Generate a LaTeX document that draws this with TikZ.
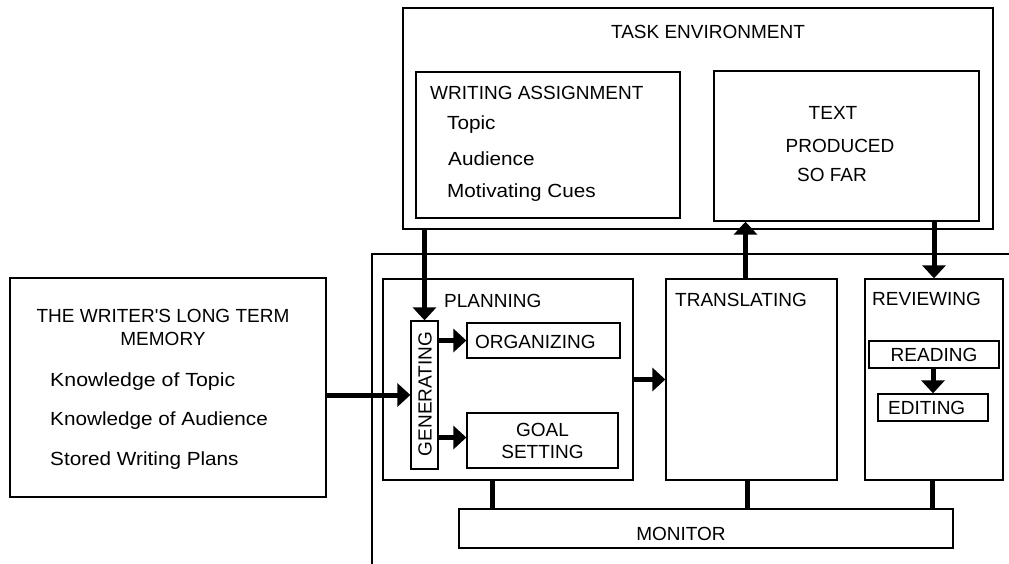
\documentclass[tikz,border=0pt]{standalone}
\usepackage{fontspec}
\setmainfont{Liberation Sans}[Ligatures=TeXOff]
\usetikzlibrary{arrows.meta,calc}
\tikzset{
  box/.style={draw, line width=1.3pt, rectangle, inner sep=0pt, anchor=center},
  lbl/.style={inner sep=0pt, font=\fontsize{19}{22}\selectfont},
  lower/.style={lbl, anchor=base west, xscale=1.09},
  arr/.style={line width=5pt, -{Triangle[length=13pt,width=23pt]}},
  link/.style={line width=5pt},
}
\begin{document}
\begin{tikzpicture}[x=1pt,y=-1pt]
\useasboundingbox (0,0) rectangle (1009,564);
% task environment
\node[box, minimum width=590, minimum height=221] (taskenv) at (698,118.5) {};
\node[lbl, anchor=base] (tetxt) at (708,39) {TASK ENVIRONMENT};
\node[box, minimum width=264, minimum height=146] (wa) at (548,145) {};
\node[lbl, anchor=base west] (watxt) at (430,100) {WRITING ASSIGNMENT};
\node[lower] (wa1) at (447,130) {Topic};
\node[lower] (wa2) at (448,166) {Audience};
\node[lower] (wa3) at (447,198) {Motivating Cues};
\node[box, minimum width=265, minimum height=150] (tp) at (846.5,146) {};
\node[lbl, anchor=base] (tp1) at (833,120) {TEXT};
\node[lbl, anchor=base] (tp2) at (840,153) {PRODUCED};
\node[lbl, anchor=base] (tp3) at (832,182) {SO FAR};
% long term memory
\node[box, minimum width=316, minimum height=219] (ltm) at (168,387.5) {};
\node[lbl, anchor=base] (ltm1) at (163,322) {THE WRITER'S LONG TERM};
\node[lbl, anchor=base] (ltm2) at (163,345) {MEMORY};
\node[lower, xscale=1.03] (ltm3) at (50,386) {Knowledge of Topic};
\node[lower] (ltm4) at (50,425) {Knowledge of Audience};
\node[lower] (ltm5) at (50,465) {Stored Writing Plans};
% process frame
\draw[line width=1.3pt] (1009,254) -- (372,254) -- (372,564);
% planning
\node[box, minimum width=250, minimum height=201] (plan) at (508,379.5) {};
\node[lbl, anchor=base west] (plantxt) at (444,307) {PLANNING};
\node[box, minimum width=27, minimum height=148] (gen) at (424.5,395) {};
\node[lbl, rotate=90] (gentxt) at (425,394) {GENERATING};
\node[box, minimum width=153, minimum height=35] (org) at (543.5,340.5) {};
\node[lbl, anchor=base west] (orgtxt) at (475,348) {ORGANIZING};
\node[box, minimum width=151, minimum height=55, lbl, align=center] (goal) at (542.5,440.5) {GOAL\\SETTING};
% translating
\node[box, minimum width=171, minimum height=201] (trans) at (751.5,379.5) {};
\node[lbl, anchor=base west] (transtxt) at (675,306) {TRANSLATING};
% reviewing
\node[box, minimum width=138, minimum height=201] (rev) at (934,379.5) {};
\node[lbl, anchor=base west] (revtxt) at (872,305) {REVIEWING};
\node[box, minimum width=130, minimum height=27, lbl] (read) at (934,354.5) {READING};
\node[box, minimum width=110, minimum height=27] (edit) at (933,407.5) {};
\node[lbl, anchor=base west] (edittxt) at (888,414) {EDITING};
% monitor
\node[box, minimum width=494, minimum height=39] (mon) at (706,528.5) {};
\node[lbl, anchor=base] (montxt) at (681,540) {MONITOR};
% arrows
\draw[arr] (gen.north |- taskenv.south) -- (gen.north);
\draw[arr] ([xshift=-6pt]trans.north) -- ([xshift=-6pt]trans.north |- tp.south);
\draw[arr] (rev.north |- tp.south) -- (rev.north);
\draw[arr] (ltm.east |- gen.west) -- (gen.west);
\draw[arr] (gen.east |- org.west) -- (org.west);
\draw[arr] ([yshift=3pt]gen.east |- goal.west) -- ([yshift=3pt]goal.west);
\draw[arr] (plan.east) -- (trans.west);
\draw[arr] (edit.north |- read.south) -- (edit.north);
% monitor links
\draw[link] ([xshift=-16pt]plan.south) -- ([xshift=-16pt]plan.south |- mon.north);
\draw[link] ([xshift=-4.5pt]trans.south) -- ([xshift=-4.5pt]trans.south |- mon.north);
\draw[link] ([xshift=-2pt]rev.south) -- ([xshift=-2pt]rev.south |- mon.north);
\end{tikzpicture}
\end{document}
